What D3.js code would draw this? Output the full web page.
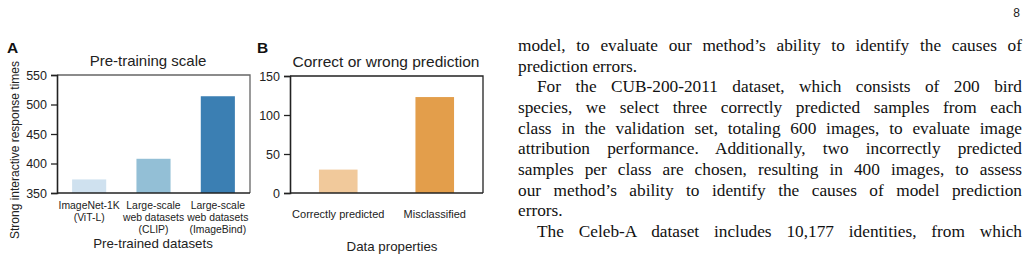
<!DOCTYPE html>
<html>
<head>
<meta charset="utf-8">
<script src="https://cdn.jsdelivr.net/npm/d3@7"></script>
<style>
  body { margin: 0; background: #fff; width: 1030px; height: 263px; overflow: hidden; position: relative; }
  svg { position: absolute; left: 0; top: 0; }
  .txt { position: absolute; font-family: "Liberation Serif", "Times New Roman", serif; font-size: 17.3px; color: #111; white-space: nowrap; }
  .just { text-align: justify; text-align-last: justify; white-space: normal; }
</style>
</head>
<body>
<svg id="chart" width="1030" height="263"></svg>
<script>
// panel A data
const pretrainCats = ['ImageNet-1K\n(ViT-L)', 'Large-scale\nweb datasets\n(CLIP)', 'Large-scale\nweb datasets\n(ImageBind)'];
const pretrainVals = [373, 408, 514];
const pretrainColors = ['#cfe1ef', '#93bfd6', '#3b7fb3'];
const pretrainTicks = [350, 400, 450, 500, 550];

// panel B data
const predCats = ['Correctly predicted', 'Misclassified'];
const predVals = [30, 123];
const predColors = ['#f1c99b', '#e39e4b'];
const predTicks = [0, 50, 100, 150];

// page text lines: [text, justified, indent]
const pageLines = [
    ['model, to evaluate our method\u2019s ability to identify the causes of', true, false],
    ['prediction errors.', false, false],
    ['For the CUB-200-2011 dataset, which consists of 200 bird', true, true],
    ['species, we select three correctly predicted samples from each', true, false],
    ['class in the validation set, totaling 600 images, to evaluate image', true, false],
    ['attribution performance. Additionally, two incorrectly predicted', true, false],
    ['samples per class are chosen, resulting in 400 images, to assess', true, false],
    ['our method\u2019s ability to identify the causes of model prediction', true, false],
    ['errors.', false, false],
    ['The Celeb-A dataset includes 10,177 identities, from which', true, true]
];

const svg = d3.select('#chart');
const sans = 'Liberation Sans, Arial, sans-serif';
const axisColor = '#222';

const panel = (opts) => {
    const { left, right, top, bottom, cats, vals, colors, ticks, domain, padIn, frameColor } = opts;

    const x = d3.scaleBand()
        .domain(cats)
        .range([left, right])
        .paddingInner(padIn)
        .paddingOuter(padIn / 2);

    const y = d3.scaleLinear()
        .domain(domain)
        .range([bottom, top]);

    // bars
    svg.append('g')
        .selectAll('rect')
        .data(cats)
        .join('rect')
        .attr('x', d => x(d))
        .attr('width', x.bandwidth())
        .attr('y', (d, i) => y(vals[i]))
        .attr('height', (d, i) => y(domain[0]) - y(vals[i]))
        .attr('fill', (d, i) => colors[i]);

    // frame top + right
    svg.append('path')
        .attr('d', `M${left},${top}H${right}V${bottom}`)
        .attr('fill', 'none')
        .attr('stroke', frameColor)
        .attr('stroke-width', 1.3);

    // y axis
    const ay = svg.append('g')
        .attr('transform', `translate(${left},0)`)
        .call(d3.axisLeft(y).tickValues(ticks).tickSize(6).tickPadding(4));
    ay.select('.domain').attr('stroke', axisColor).attr('stroke-width', 1.6);
    ay.selectAll('.tick line').attr('stroke', axisColor).attr('stroke-width', 1.3);
    ay.selectAll('.tick text')
        .attr('font-family', sans)
        .attr('font-size', 12.5)
        .attr('fill', '#222');

    // x baseline
    svg.append('line')
        .attr('x1', left).attr('x2', right)
        .attr('y1', bottom).attr('y2', bottom)
        .attr('stroke', axisColor)
        .attr('stroke-width', 1.6);

    return x;
};

// ---- Panel A
const xA = panel({
    left: 57, right: 250, top: 75, bottom: 193,
    cats: pretrainCats, vals: pretrainVals, colors: pretrainColors,
    ticks: pretrainTicks, domain: [350, 550], padIn: 0.47, frameColor: '#666'
});

pretrainCats.forEach(c => {
    const t = svg.append('text')
        .attr('font-family', sans)
        .attr('font-size', 10.4)
        .attr('fill', '#222')
        .attr('text-anchor', 'middle');
    c.split('\n').forEach((line, i) => {
        t.append('tspan')
            .attr('x', xA(c) + xA.bandwidth() / 2)
            .attr('y', 209 + i * 12)
            .text(line);
    });
});

svg.append('text').attr('x', 153).attr('y', 248)
    .attr('text-anchor', 'middle').attr('font-family', sans).attr('font-size', 13.3).attr('fill', '#222')
    .text('Pre-trained datasets');

svg.append('text').attr('x', 148).attr('y', 66)
    .attr('text-anchor', 'middle').attr('font-family', sans).attr('font-size', 15).attr('fill', '#222')
    .text('Pre-training scale');

svg.append('text')
    .attr('transform', 'translate(18.5,150) rotate(-90)')
    .attr('text-anchor', 'middle').attr('font-family', sans).attr('font-size', 12).attr('fill', '#222')
    .text('Strong interactive response times');

svg.append('text').attr('x', 7).attr('y', 53)
    .attr('font-family', sans).attr('font-size', 15.5).attr('font-weight', 'bold').attr('fill', '#111')
    .text('A');

// ---- Panel B
const xB = panel({
    left: 290, right: 483, top: 76, bottom: 193,
    cats: predCats, vals: predVals, colors: predColors,
    ticks: predTicks, domain: [0, 150], padIn: 0.6, frameColor: '#222'
});

svg.append('g')
    .selectAll('text')
    .data(predCats)
    .join('text')
    .attr('x', d => xB(d) + xB.bandwidth() / 2)
    .attr('y', 218)
    .attr('text-anchor', 'middle')
    .attr('font-family', sans)
    .attr('font-size', 11)
    .attr('fill', '#222')
    .text(d => d);

svg.append('text').attr('x', 392).attr('y', 251)
    .attr('text-anchor', 'middle').attr('font-family', sans).attr('font-size', 13.3).attr('fill', '#222')
    .text('Data properties');

svg.append('text').attr('x', 386).attr('y', 67)
    .attr('text-anchor', 'middle').attr('font-family', sans).attr('font-size', 15.5).attr('fill', '#222')
    .text('Correct or wrong prediction');

svg.append('text').attr('x', 257).attr('y', 53)
    .attr('font-family', sans).attr('font-size', 15.5).attr('font-weight', 'bold').attr('fill', '#111')
    .text('B');

// ---- page number and body text
svg.append('text').attr('x', 1020).attr('y', 17)
    .attr('text-anchor', 'end').attr('font-family', sans).attr('font-size', 12).attr('fill', '#222')
    .text('8');

const textLeft = 518, textRight = 1022, lineStep = 20.67, firstTop = 36;
d3.select('body').selectAll('div.txt')
    .data(pageLines)
    .join('div')
    .attr('class', d => d[1] ? 'txt just' : 'txt')
    .style('left', d => (textLeft + (d[2] ? 19 : 0)) + 'px')
    .style('width', d => (textRight - textLeft - (d[2] ? 19 : 0)) + 'px')
    .style('top', (d, i) => (firstTop + i * lineStep) + 'px')
    .style('line-height', '20px')
    .text(d => d[0]);
</script>
</body>
</html>
